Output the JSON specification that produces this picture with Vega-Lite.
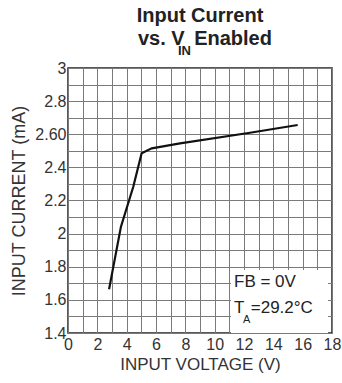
{
  "$schema": "https://vega.github.io/schema/vega-lite/v6.json",
  "width": 264,
  "height": 265,
  "autosize": "none",
  "padding": {"left": 68, "top": 68, "right": 10, "bottom": 50},
  "background": "white",
  "config": {
    "view": {"stroke": "#222", "strokeWidth": 1.5},
    "font": "Liberation Sans",
    "axis": {
      "grid": true,
      "gridColor": "#7a7a7a",
      "gridOpacity": 1,
      "domain": false,
      "ticks": false,
      "labelFontSize": 16,
      "labelColor": "#333",
      "labelFlush": false,
      "labelOverlap": false,
      "titleFontWeight": "normal",
      "titleColor": "#333"
    }
  },
  "resolve": {"axis": {"x": "independent", "y": "independent"}},
  "layer": [
    {
      "data": {
        "values": [
          {"v": 2.8, "i": 1.664},
          {"v": 3.61, "i": 2.042},
          {"v": 4.45, "i": 2.283},
          {"v": 5.02, "i": 2.485},
          {"v": 5.71, "i": 2.515},
          {"v": 7.64, "i": 2.545},
          {"v": 12.41, "i": 2.609},
          {"v": 15.66, "i": 2.656}
        ]
      },
      "mark": {"type": "line", "color": "#111", "strokeWidth": 2.2},
      "encoding": {
        "x": {
          "field": "v",
          "type": "quantitative",
          "scale": {"domain": [0, 18], "nice": false},
          "axis": {
            "values": [0,1,2,3,4,5,6,7,8,9,10,11,12,13,14,15,16,17,18],
            "labelExpr": "datum.value % 2 === 0 ? toString(datum.value) : ''",
            "title": "INPUT VOLTAGE (V)",
            "labelPadding": 3,
            "titleFontSize": 17,
            "titlePadding": 4
          }
        },
        "y": {
          "field": "i",
          "type": "quantitative",
          "scale": {"domain": [1.4, 3], "nice": false, "zero": false},
          "axis": {
            "values": [1.4,1.5,1.6,1.7,1.8,1.9,2.0,2.1,2.2,2.3,2.4,2.5,2.6,2.7,2.8,2.9,3.0],
            "labelExpr": "abs(datum.value-2.6)<0.001 ? '2.60' : (round(datum.value*10)%2==0 ? toString(round(datum.value*10)/10) : '')",
            "title": "INPUT CURRENT (mA)",
            "labelPadding": 2,
            "titleFontSize": 18,
            "titlePadding": 6
          }
        }
      }
    },
    {
      "data": {"values": [{}]},
      "mark": {"type": "rect", "fill": "white"},
      "encoding": {
        "x": {"datum": 11.11, "type": "quantitative", "axis": null},
        "x2": {"datum": 17.73},
        "y": {"datum": 1.4, "type": "quantitative", "axis": null},
        "y2": {"datum": 1.78}
      }
    },
    {
      "data": {"values": [{}]},
      "mark": {"type": "text", "text": "FB = 0V", "align": "left", "baseline": "alphabetic", "fontSize": 17, "color": "#222"},
      "encoding": {"x": {"datum": 11.32, "type": "quantitative", "axis": null}, "y": {"datum": 1.676, "type": "quantitative", "axis": null}}
    },
    {
      "data": {"values": [{}]},
      "mark": {"type": "text", "text": "T", "align": "left", "baseline": "alphabetic", "fontSize": 17, "color": "#222"},
      "encoding": {"x": {"datum": 11.32, "type": "quantitative", "axis": null}, "y": {"datum": 1.519, "type": "quantitative", "axis": null}}
    },
    {
      "data": {"values": [{}]},
      "mark": {"type": "text", "text": "A", "align": "left", "baseline": "alphabetic", "fontSize": 11, "color": "#222"},
      "encoding": {"x": {"datum": 11.93, "type": "quantitative", "axis": null}, "y": {"datum": 1.462, "type": "quantitative", "axis": null}}
    },
    {
      "data": {"values": [{}]},
      "mark": {"type": "text", "text": "=29.2°C", "align": "left", "baseline": "alphabetic", "fontSize": 17, "color": "#222"},
      "encoding": {"x": {"datum": 12.46, "type": "quantitative", "axis": null}, "y": {"datum": 1.519, "type": "quantitative", "axis": null}}
    },
    {
      "data": {"values": [{}]},
      "mark": {"type": "text", "text": "Input Current", "align": "center", "baseline": "alphabetic", "fontSize": 20, "fontWeight": "bold", "color": "#222"},
      "encoding": {"x": {"datum": 9.0, "type": "quantitative", "axis": null}, "y": {"datum": 3.278, "type": "quantitative", "axis": null}}
    },
    {
      "data": {"values": [{}]},
      "mark": {"type": "text", "text": "vs. V", "align": "right", "baseline": "alphabetic", "fontSize": 20, "fontWeight": "bold", "color": "#222"},
      "encoding": {"x": {"datum": 7.95, "type": "quantitative", "axis": null}, "y": {"datum": 3.139, "type": "quantitative", "axis": null}}
    },
    {
      "data": {"values": [{}]},
      "mark": {"type": "text", "text": "IN", "align": "left", "baseline": "alphabetic", "fontSize": 13, "fontWeight": "bold", "color": "#222"},
      "encoding": {"x": {"datum": 7.5, "type": "quantitative", "axis": null}, "y": {"datum": 3.076, "type": "quantitative", "axis": null}}
    },
    {
      "data": {"values": [{}]},
      "mark": {"type": "text", "text": "Enabled", "align": "left", "baseline": "alphabetic", "fontSize": 20, "fontWeight": "bold", "color": "#222"},
      "encoding": {"x": {"datum": 8.6, "type": "quantitative", "axis": null}, "y": {"datum": 3.139, "type": "quantitative", "axis": null}}
    }
  ]
}
